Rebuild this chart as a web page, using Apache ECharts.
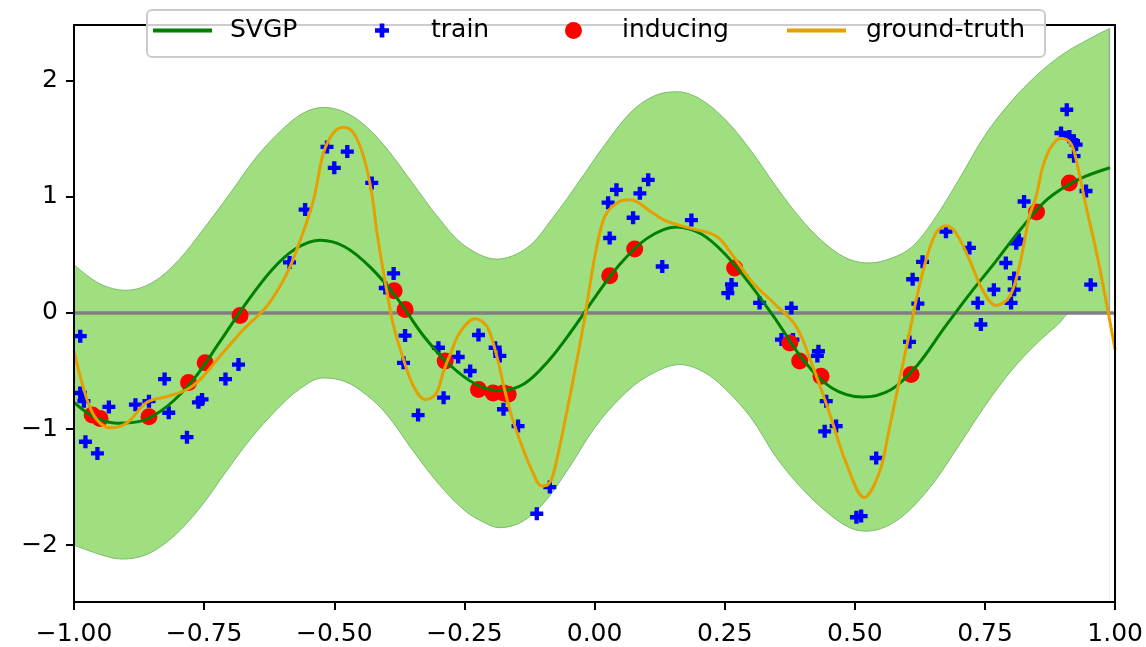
<!DOCTYPE html>
<html>
<head>
<meta charset="utf-8">
<script src="https://cdn.jsdelivr.net/npm/echarts@6/dist/echarts.min.js"></script>
<style>
  html, body { margin: 0; padding: 0; background: #fff; }
  #main { width: 1146px; height: 647px; }
</style>
</head>
<body>
<div id="main"></div>
<script>
// upper / lower edge of the confidence band
const bandUpX = [-1.0, -0.95, -0.90, -0.85, -0.80, -0.75, -0.70, -0.65, -0.60, -0.56, -0.521, -0.48, -0.44, -0.40, -0.35, -0.30, -0.25, -0.188, -0.13, -0.08, -0.03, 0.02, 0.07, 0.115, 0.157, 0.20, 0.25, 0.30, 0.35, 0.40, 0.45, 0.49, 0.528, 0.57, 0.61, 0.65, 0.70, 0.75, 0.80, 0.85, 0.90, 0.95, 0.989];
const bandUpY = [0.415, 0.25, 0.195, 0.26, 0.45, 0.73, 1.03, 1.34, 1.58, 1.72, 1.77, 1.73, 1.61, 1.42, 1.12, 0.82, 0.58, 0.464, 0.56, 0.82, 1.13, 1.45, 1.73, 1.87, 1.905, 1.85, 1.67, 1.40, 1.08, 0.79, 0.57, 0.46, 0.43, 0.47, 0.57, 0.79, 1.15, 1.53, 1.82, 2.05, 2.23, 2.36, 2.45];
const bandLoX = [-1.0, -0.95, -0.908, -0.86, -0.81, -0.76, -0.71, -0.66, -0.61, -0.565, -0.521, -0.48, -0.44, -0.40, -0.35, -0.30, -0.25, -0.21, -0.182, -0.14, -0.10, -0.05, 0.00, 0.05, 0.10, 0.164, 0.21, 0.25, 0.30, 0.35, 0.40, 0.45, 0.49, 0.522, 0.56, 0.60, 0.65, 0.70, 0.75, 0.80, 0.85, 0.89, 0.915, 0.95, 0.989];
const bandLoY = [-2.00, -2.08, -2.12, -2.08, -1.93, -1.69, -1.38, -1.08, -0.83, -0.65, -0.56, -0.59, -0.70, -0.87, -1.18, -1.47, -1.70, -1.81, -1.85, -1.80, -1.65, -1.34, -0.99, -0.73, -0.55, -0.445, -0.51, -0.65, -0.90, -1.25, -1.52, -1.73, -1.85, -1.88, -1.84, -1.72, -1.47, -1.14, -0.80, -0.50, -0.26, -0.10, 0, 0, 0];

// SVGP mean
const meanX = [-1.0, -0.96, -0.917, -0.87, -0.82, -0.77, -0.72, -0.67, -0.62, -0.575, -0.527, -0.48, -0.43, -0.38, -0.33, -0.28, -0.23, -0.182, -0.135, -0.09, -0.045, 0.00, 0.045, 0.10, 0.157, 0.205, 0.25, 0.30, 0.35, 0.40, 0.455, 0.515, 0.57, 0.62, 0.67, 0.72, 0.77, 0.82, 0.87, 0.93, 0.99];
const meanY = [-0.77, -0.90, -0.95, -0.93, -0.80, -0.57, -0.25, 0.08, 0.37, 0.55, 0.625, 0.57, 0.39, 0.13, -0.19, -0.44, -0.61, -0.67, -0.61, -0.42, -0.16, 0.13, 0.40, 0.64, 0.74, 0.68, 0.51, 0.24, -0.07, -0.40, -0.645, -0.725, -0.66, -0.45, -0.14, 0.16, 0.44, 0.73, 0.98, 1.15, 1.25];

// ground truth
const gtX = [-1.0, -0.975, -0.956, -0.93, -0.898, -0.86, -0.821, -0.783, -0.757, -0.719, -0.674, -0.629, -0.591, -0.565, -0.54, -0.521, -0.502, -0.482, -0.463, -0.444, -0.428, -0.418, -0.402, -0.386, -0.367, -0.348, -0.326, -0.305, -0.29, -0.275, -0.259, -0.23, -0.207, -0.188, -0.175, -0.16, -0.14, -0.12, -0.102, -0.09, -0.08, -0.06, -0.041, -0.022, -0.003, 0.010, 0.023, 0.048, 0.068, 0.112, 0.138, 0.183, 0.234, 0.266, 0.304, 0.343, 0.387, 0.419, 0.451, 0.483, 0.518, 0.547, 0.566, 0.586, 0.605, 0.618, 0.637, 0.656, 0.675, 0.694, 0.72, 0.745, 0.771, 0.797, 0.816, 0.835, 0.848, 0.861, 0.877, 0.896, 0.915, 0.928, 0.944, 0.963, 0.982, 1.0];
const gtY = [-0.33, -0.745, -0.92, -0.99, -0.946, -0.77, -0.72, -0.66, -0.57, -0.37, -0.14, 0.06, 0.34, 0.63, 0.97, 1.375, 1.55, 1.60, 1.55, 1.35, 1.03, 0.69, 0.26, -0.115, -0.40, -0.63, -0.745, -0.70, -0.50, -0.33, -0.17, -0.05, -0.115, -0.37, -0.62, -0.88, -1.14, -1.36, -1.49, -1.48, -1.40, -1.00, -0.57, -0.12, 0.40, 0.69, 0.86, 0.96, 0.975, 0.86, 0.79, 0.73, 0.66, 0.49, 0.26, 0.09, -0.115, -0.46, -0.86, -1.29, -1.59, -1.375, -1.00, -0.57, -0.17, 0.115, 0.46, 0.69, 0.75, 0.69, 0.46, 0.20, 0.063, 0.14, 0.40, 0.83, 1.00, 1.26, 1.43, 1.505, 1.46, 1.26, 0.92, 0.545, 0.115, -0.32];

// training points
const trainX = [-0.988, -0.988, -0.981, -0.978, -0.955, -0.933, -0.882, -0.856, -0.826, -0.818, -0.783, -0.761, -0.754, -0.709, -0.684, -0.586, -0.556, -0.514, -0.500, -0.475, -0.428, -0.386, -0.402, -0.364, -0.367, -0.339, -0.300, -0.290, -0.262, -0.239, -0.223, -0.191, -0.182, -0.175, -0.147, -0.086, -0.111, 0.026, 0.029, 0.042, 0.074, 0.087, 0.103, 0.130, 0.186, 0.256, 0.263, 0.317, 0.378, 0.359, 0.381, 0.430, 0.428, 0.445, 0.442, 0.464, 0.503, 0.512, 0.541, 0.605, 0.621, 0.611, 0.630, 0.675, 0.720, 0.736, 0.742, 0.767, 0.790, 0.806, 0.806, 0.800, 0.810, 0.815, 0.825, 0.896, 0.907, 0.912, 0.920, 0.925, 0.921, 0.944, 0.953];
const trainY = [-0.20, -0.69, -0.76, -1.11, -1.21, -0.81, -0.79, -0.76, -0.57, -0.86, -1.07, -0.77, -0.745, -0.57, -0.445, 0.435, 0.89, 1.43, 1.25, 1.39, 1.12, 0.34, 0.215, -0.195, -0.43, -0.88, -0.30, -0.73, -0.38, -0.50, -0.19, -0.30, -0.37, -0.83, -0.975, -1.50, -1.73, 0.95, 0.645, 1.06, 0.82, 1.03, 1.146, 0.40, 0.80, 0.17, 0.245, 0.086, 0.043, -0.23, -0.23, -0.33, -0.37, -0.76, -1.02, -0.975, -1.76, -1.75, -1.25, -0.25, 0.08, 0.29, 0.44, 0.70, 0.56, 0.086, -0.10, 0.20, 0.43, 0.30, 0.20, 0.086, 0.60, 0.63, 0.96, 1.55, 1.75, 1.52, 1.48, 1.45, 1.35, 1.05, 0.243];

// inducing points
const indX = [-0.965, -0.95, -0.856, -0.780, -0.748, -0.681, -0.385, -0.364, -0.287, -0.223, -0.195, -0.175, -0.166, 0.029, 0.077, 0.269, 0.375, 0.394, 0.435, 0.608, 0.849, 0.912];
const indY = [-0.88, -0.91, -0.895, -0.60, -0.43, -0.023, 0.19, 0.03, -0.415, -0.66, -0.69, -0.69, -0.70, 0.32, 0.55, 0.387, -0.26, -0.415, -0.545, -0.53, 0.87, 1.12];

// horizontal reference line at zero
const zeroX = [-1, 1];
const zeroY = [0, 0];

const yTicks = [-2, -1, 0, 1, 2];

const zip = (xs, ys) => xs.map((x, i) => [x, ys[i]]);
const fmtMinus = s => s.replace('-', '\u2212');
const font = 'DejaVu Sans';
const plusPath = 'path://M1,0H2V1H3V2H2V3H1V2H0V1H1Z';
const bandEdge = '#7cbb6c';
const smoothness = 0.35;

// closing edge on the right end of the band
const lastUp = bandUpX.length - 1, lastLo = bandLoX.length - 1;
const bandEndData = [[bandUpX[lastUp], bandUpY[lastUp]], [bandLoX[lastLo], bandLoY[lastLo]]];

const chart = echarts.init(document.getElementById('main'), null, { renderer: 'canvas' });

const axisLineStyle = { color: '#000', width: 2 };

const legendBase = (name, left, extra) => Object.assign({
  data: [name], left: left, top: 18, padding: 0, z: 100,
  selectedMode: false
}, extra);
const legendText = pad => ({ fontFamily: font, fontSize: 25, color: '#000', padding: [0, 0, 0, pad] });

chart.setOption({
  animation: false,
  backgroundColor: '#fff',
  grid: { left: 74, right: 30, top: 25, bottom: 44 },
  xAxis: [
    {
      type: 'value', min: -1, max: 1, interval: 0.25, z: 10,
      axisLine: { onZero: false, lineStyle: axisLineStyle },
      axisTick: { length: 8, lineStyle: axisLineStyle },
      splitLine: { show: false },
      axisLabel: {
        margin: 20, color: '#000', fontFamily: font, fontSize: 25,
        showMinLabel: true, showMaxLabel: true,
        formatter: v => fmtMinus(v.toFixed(2))
      }
    },
    {
      type: 'value', position: 'top', min: -1, max: 1, z: 10,
      axisLine: { onZero: false, lineStyle: axisLineStyle },
      axisTick: { show: false }, axisLabel: { show: false }, splitLine: { show: false }
    }
  ],
  yAxis: [
    {
      type: 'value', min: -2.49, max: 2.48, z: 10,
      axisLine: { show: true, onZero: false, lineStyle: axisLineStyle },
      axisTick: { show: true, length: 8, lineStyle: axisLineStyle, customValues: yTicks },
      splitLine: { show: false },
      axisLabel: {
        margin: 16, color: '#000', fontFamily: font, fontSize: 25,
        customValues: yTicks,
        formatter: v => fmtMinus(String(v))
      }
    },
    {
      type: 'value', position: 'right', min: -2.49, max: 2.48, z: 10,
      axisLine: { show: true, onZero: false, lineStyle: axisLineStyle },
      axisTick: { show: false }, axisLabel: { show: false }, splitLine: { show: false }
    }
  ],
  graphic: [{
    type: 'rect', z: 90,
    shape: { x: 147, y: 10, width: 898, height: 47, r: 5 },
    style: { fill: 'rgba(255,255,255,0.8)', stroke: '#cccccc', lineWidth: 2 }
  }],
  legend: [
    legendBase('SVGP', 153, { icon: 'rect', itemWidth: 59, itemHeight: 4, textStyle: legendText(13) }),
    legendBase('train', 375, { icon: plusPath, itemWidth: 14, itemHeight: 14, textStyle: legendText(37) }),
    legendBase('inducing', 565, { icon: 'circle', itemWidth: 17, itemHeight: 17, textStyle: legendText(35) }),
    legendBase('ground-truth', 787, { icon: 'rect', itemWidth: 59, itemHeight: 4, textStyle: legendText(15) })
  ],
  series: [
    {
      name: 'band-upper', type: 'line', data: zip(bandUpX, bandUpY),
      smooth: smoothness, symbol: 'none', silent: true, z: 1,
      lineStyle: { color: bandEdge, width: 1 },
      areaStyle: { color: '#9fdf80', opacity: 1, origin: 'start' }
    },
    {
      name: 'band-lower', type: 'line', data: zip(bandLoX, bandLoY),
      smooth: smoothness, symbol: 'none', silent: true, z: 1,
      lineStyle: { color: bandEdge, width: 1 },
      areaStyle: { color: '#ffffff', opacity: 1, origin: 'start' }
    },
    {
      name: 'band-end', type: 'line', data: bandEndData,
      symbol: 'none', silent: true, z: 1,
      lineStyle: { color: '#9aa89a', width: 1.5 }
    },
    {
      name: 'zero', type: 'line', data: zip(zeroX, zeroY),
      symbol: 'none', silent: true, z: 2,
      lineStyle: { color: '#808080', width: 3.5 }
    },
    {
      name: 'train', type: 'scatter', data: zip(trainX, trainY),
      symbol: plusPath, symbolSize: 13, z: 3,
      itemStyle: { color: '#0000ff', opacity: 1 }
    },
    {
      name: 'inducing', type: 'scatter', data: zip(indX, indY),
      symbol: 'circle', symbolSize: 17, z: 4,
      itemStyle: { color: '#ff0000', opacity: 1 }
    },
    {
      name: 'SVGP', type: 'line', data: zip(meanX, meanY),
      smooth: smoothness, symbol: 'none', z: 5,
      itemStyle: { color: '#008000' },
      lineStyle: { color: '#008000', width: 3 }
    },
    {
      name: 'ground-truth', type: 'line', data: zip(gtX, gtY),
      smooth: smoothness, symbol: 'none', z: 6,
      itemStyle: { color: '#e69f00' },
      lineStyle: { color: '#e69f00', width: 3 }
    }
  ]
});
</script>
</body>
</html>
